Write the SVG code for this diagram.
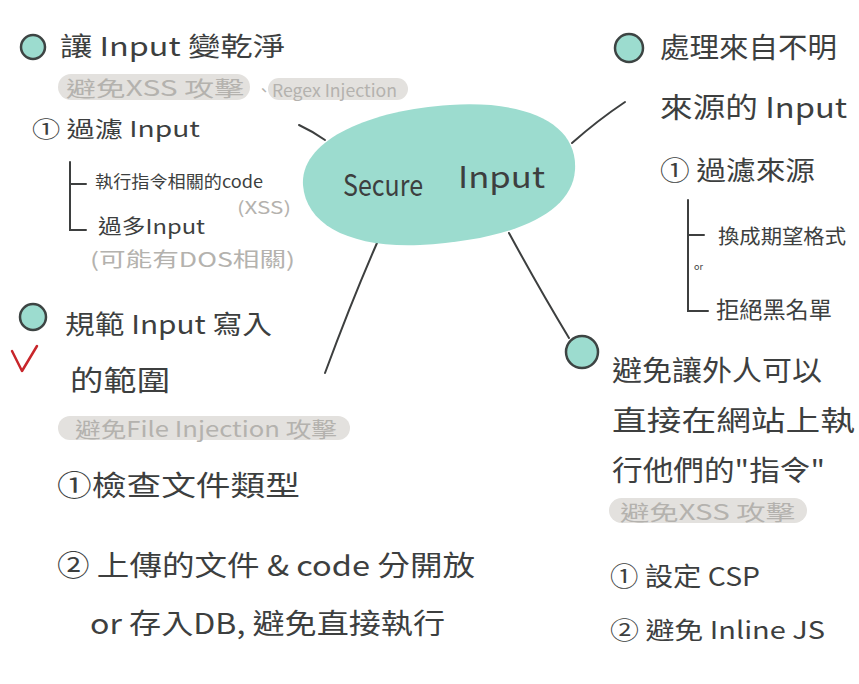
<svg xmlns="http://www.w3.org/2000/svg" width="859" height="684" viewBox="0 0 859 684">
<style>
.t{font-family:"Noto Sans CJK TC","Noto Sans",sans-serif;fill:#3d3f3f;}
.g{font-family:"Noto Sans CJK TC","Noto Sans",sans-serif;fill:#b4b2ae;}
.pill{fill:#e3e1de;}
.bul{fill:#9cdccf;stroke:#3d4443;stroke-width:2.5;}
.ln{fill:none;stroke:#3d3f3f;stroke-width:2;stroke-linecap:round;}
</style>
<rect width="859" height="684" fill="#ffffff"/>
<g id="connectors">
<path class="ln" d="M299,125 Q312,131 325,140"/>
<path class="ln" d="M572,143 Q598,120 625,102"/>
<path class="ln" d="M377,243 Q352,300 325,373"/>
<path class="ln" d="M509,233 Q540,290 569,338"/>
</g>
<g id="center">
<path d="M303,185 C300,140 370,110 450,105 C530,100 578,125 575,170 C572,215 510,240 420,245 C350,248 306,225 303,185 Z" fill="#9cdccf"/>
<text class="t" x="343" y="196" font-size="30" textLength="80" lengthAdjust="spacingAndGlyphs">Secure</text>
<text class="t" x="458" y="188" font-size="30" textLength="87" lengthAdjust="spacingAndGlyphs">Input</text>
</g>
<g id="node-clean">
<circle class="bul" cx="33" cy="47" r="12"/>
<text class="t" x="60" y="56" font-size="26" textLength="225" lengthAdjust="spacingAndGlyphs">讓 Input 變乾淨</text>
<rect class="pill" x="58" y="74" width="192" height="26" rx="13"/>
<rect class="pill" x="268" y="78" width="140" height="22" rx="11"/>
<text class="g" x="66" y="96" font-size="21" textLength="178" lengthAdjust="spacingAndGlyphs">避免XSS 攻擊</text>
<text class="g" x="256" y="96" font-size="16">、</text>
<text class="g" x="272" y="97" font-size="17" textLength="125" lengthAdjust="spacingAndGlyphs">Regex Injection</text>
<text class="t" x="32" y="137" font-size="22" textLength="168" lengthAdjust="spacingAndGlyphs">① 過濾 Input</text>
<path class="ln" d="M70,162 L70,230 L86,230 M70,184 L86,184"/>
<text class="t" x="95" y="188" font-size="17" textLength="168" lengthAdjust="spacingAndGlyphs">執行指令相關的code</text>
<text class="g" x="237" y="214" font-size="17" textLength="54" lengthAdjust="spacingAndGlyphs">(XSS)</text>
<text class="t" x="98" y="234" font-size="20" textLength="107" lengthAdjust="spacingAndGlyphs">過多Input</text>
<text class="g" x="90" y="267" font-size="20" textLength="205" lengthAdjust="spacingAndGlyphs">(可能有DOS相關)</text>
</g>
<g id="node-scope">
<circle class="bul" cx="33" cy="317" r="13"/>
<path d="M12,351 L22,371 L37,346" fill="none" stroke="#c8262b" stroke-width="2.5" stroke-linecap="round" stroke-linejoin="round"/>
<text class="t" x="65" y="334" font-size="26" textLength="207" lengthAdjust="spacingAndGlyphs">規範 Input 寫入</text>
<text class="t" x="70" y="391" font-size="28" textLength="100" lengthAdjust="spacingAndGlyphs">的範圍</text>
<rect class="pill" x="58" y="416" width="292" height="24" rx="12"/>
<text class="g" x="75" y="437" font-size="21" textLength="262" lengthAdjust="spacingAndGlyphs">避免File Injection 攻擊</text>
<text class="t" x="57" y="496" font-size="28" textLength="243" lengthAdjust="spacingAndGlyphs">①檢查文件類型</text>
<text class="t" x="57" y="576" font-size="28" textLength="418" lengthAdjust="spacingAndGlyphs">② 上傳的文件 &amp; code 分開放</text>
<text class="t" x="90" y="634" font-size="28" textLength="355" lengthAdjust="spacingAndGlyphs">or 存入DB, 避免直接執行</text>
</g>
<g id="node-source">
<circle class="bul" cx="629" cy="48" r="14"/>
<text class="t" x="660" y="58" font-size="28" textLength="177" lengthAdjust="spacingAndGlyphs">處理來自不明</text>
<text class="t" x="660" y="118" font-size="28" textLength="187" lengthAdjust="spacingAndGlyphs">來源的 Input</text>
<text class="t" x="660" y="180" font-size="26" textLength="155" lengthAdjust="spacingAndGlyphs">① 過濾來源</text>
<path class="ln" d="M688,200 L688,311 L708,311 M688,235 L704,235"/>
<text class="t" x="718" y="244" font-size="20" textLength="128" lengthAdjust="spacingAndGlyphs">換成期望格式</text>
<text class="t" x="694" y="270" font-size="9">or</text>
<text class="t" x="716" y="318" font-size="23" textLength="116" lengthAdjust="spacingAndGlyphs">拒絕黑名單</text>
</g>
<g id="node-exec">
<circle class="bul" cx="582" cy="352" r="16"/>
<text class="t" x="612" y="381" font-size="28" textLength="210" lengthAdjust="spacingAndGlyphs">避免讓外人可以</text>
<text class="t" x="612" y="431" font-size="28" textLength="243" lengthAdjust="spacingAndGlyphs">直接在網站上執</text>
<text class="t" x="612" y="481" font-size="28" textLength="213" lengthAdjust="spacingAndGlyphs">行他們的"指令"</text>
<rect class="pill" x="609" y="498" width="198" height="25" rx="12.5"/>
<text class="g" x="620" y="520" font-size="21" textLength="175" lengthAdjust="spacingAndGlyphs">避免XSS 攻擊</text>
<text class="t" x="610" y="586" font-size="26" textLength="150" lengthAdjust="spacingAndGlyphs">① 設定 CSP</text>
<text class="t" x="610" y="639" font-size="24" textLength="215" lengthAdjust="spacingAndGlyphs">② 避免 Inline JS</text>
</g>
</svg>
